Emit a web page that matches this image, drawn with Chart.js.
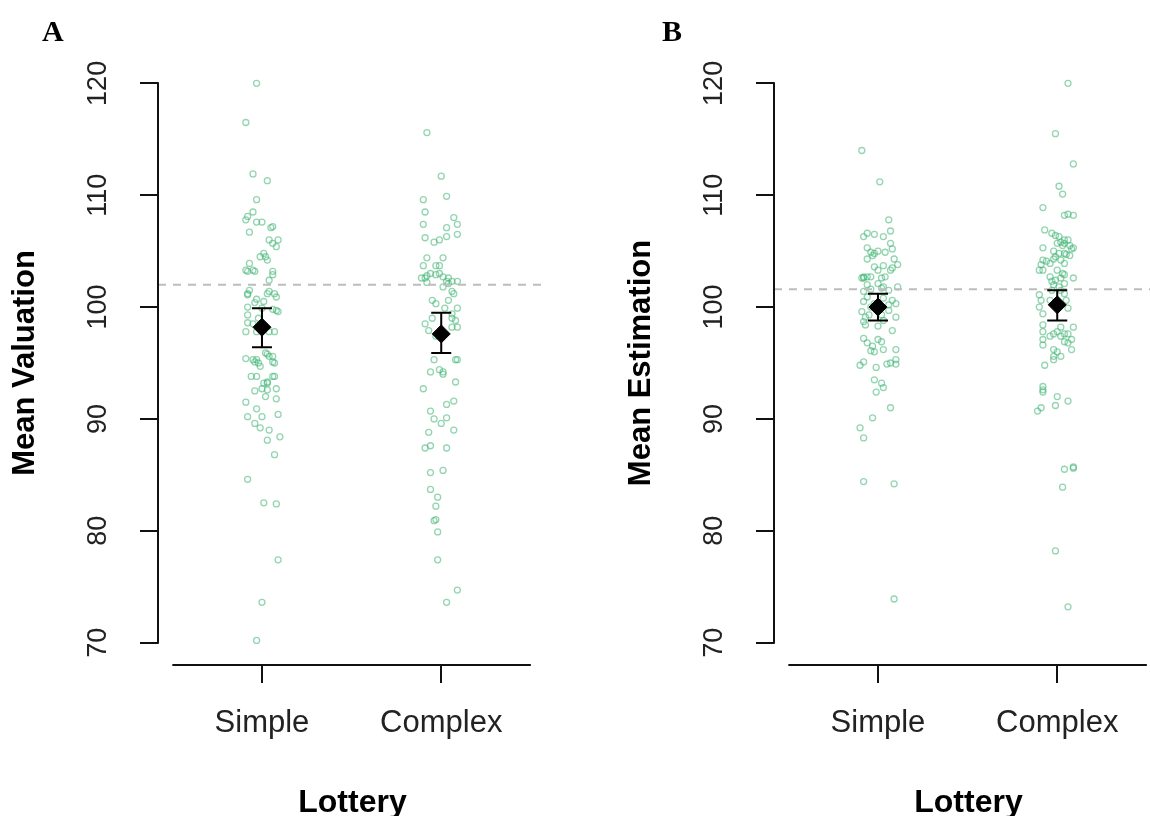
<!DOCTYPE html>
<html>
<head>
<meta charset="utf-8">
<script src="https://cdn.jsdelivr.net/npm/chart.js@4.4.1/dist/chart.umd.min.js"></script>
<style>
    html, body { margin: 0; padding: 0; background: #fff; }
    body { position: relative; width: 1150px; height: 816px; overflow: hidden; }
    .panel { position: absolute; top: 0; }
    .tag { position: absolute; z-index: 2; font: bold 30px "Liberation Serif", "Times New Roman", serif; line-height: 30px; color: #000; }
</style>
</head>
<body>
<div class="tag" style="left:42px; top:16px;">A</div>
<div class="tag" style="left:662px; top:16px;">B</div>
<canvas id="chartA" class="panel" width="575" height="816" style="left:0;"></canvas>
<canvas id="chartB" class="panel" width="575" height="816" style="left:616px;"></canvas>

<script>
// --- data ---
const categories = ['Simple', 'Complex'];
const yTicks = [70, 80, 90, 100, 110, 120];
const axisSpan = [0.5, 2.5]; // R draws the x axis line from 0.5 to 2.5

// Panel A: Mean Valuation
const valSimple = [120.0, 116.5, 111.9, 111.3, 109.6, 108.5, 108.1, 107.8, 107.6, 107.6, 107.2, 107.1, 106.7, 106.0, 106.0, 105.7, 105.4, 104.8, 104.5, 104.5,
    104.2, 103.9, 103.3, 103.2, 103.3, 103.2, 103.2, 102.9, 102.4, 101.5, 101.2, 101.1, 101.4, 101.2, 101.2, 100.7, 100.4, 100.5, 100.9, 100.0,
    99.9, 99.8, 99.7, 99.6, 99.3, 99.0, 98.6, 98.5, 97.8, 97.8, 97.8, 97.8, 95.9, 95.8, 95.6, 95.6, 95.4, 95.3, 95.3, 95.1,
    95.0, 95.1, 95.0, 94.7, 93.8, 93.8, 93.8, 93.8, 93.3, 93.2, 93.2, 92.7, 92.5, 92.6, 92.7, 92.0, 91.8, 91.5, 90.9, 90.4,
    90.2, 90.2, 89.6, 89.2, 89.0, 88.4, 88.1, 86.8, 84.6, 82.5, 82.4, 77.4, 73.6, 70.2];
const valSimpleJitter = [-0.03, -0.09, -0.05, 0.03, -0.03, -0.05, -0.08, -0.09, -0.03, 0.00, 0.06, 0.05, -0.07, 0.04, 0.09, 0.06, 0.08, 0.01, -0.01, 0.02,
    0.03, -0.07, -0.09, -0.08, -0.05, -0.04, 0.06, 0.06, 0.04, -0.07, -0.08, -0.08, 0.04, 0.03, 0.07, -0.03, -0.04, 0.01, 0.08, -0.08,
    0.00, 0.06, 0.08, 0.09, -0.08, -0.02, -0.08, -0.05, -0.09, -0.03, 0.04, 0.07, 0.02, 0.03, 0.04, 0.06, -0.09, -0.05, -0.03, -0.04,
    -0.02, 0.06, 0.07, -0.01, -0.06, -0.03, 0.06, 0.07, 0.03, 0.01, 0.03, 0.00, -0.04, 0.03, 0.08, 0.02, 0.08, -0.09, -0.03, 0.09,
    -0.08, 0.00, -0.04, -0.01, 0.04, 0.10, 0.03, 0.07, -0.08, 0.01, 0.08, 0.09, 0.00, -0.03];
const valComplex = [115.6, 111.7, 109.9, 109.6, 108.5, 108.0, 107.4, 107.4, 107.1, 106.5, 106.2, 105.8, 106.0, 106.3, 104.4, 104.4, 103.7, 103.7, 103.7, 103.0,
    102.8, 102.6, 102.6, 102.9, 103.0, 102.7, 102.6, 102.3, 102.3, 102.3, 102.2, 101.8, 102.1, 101.4, 101.2, 100.6, 100.6, 100.3, 99.9, 99.9,
    99.4, 98.5, 99.0, 99.0, 98.8, 97.9, 98.2, 97.4, 98.2, 95.3, 95.3, 95.3, 94.2, 94.4, 94.0, 94.2, 92.7, 93.3, 91.3, 91.6,
    90.7, 90.0, 90.1, 89.6, 88.8, 89.0, 87.4, 87.6, 87.4, 85.2, 85.4, 83.7, 83.0, 82.2, 81.0, 80.9, 79.9, 77.4, 74.7, 73.6];
const valComplexJitter = [-0.08, 0.00, 0.03, -0.10, -0.09, 0.07, 0.09, -0.10, 0.03, 0.09, -0.09, -0.04, -0.01, 0.03, -0.08, 0.01, -0.10, -0.03, -0.01, -0.06,
    -0.08, -0.09, -0.11, -0.03, -0.01, 0.01, 0.04, 0.06, 0.03, 0.09, -0.08, 0.01, 0.04, 0.06, 0.07, -0.05, 0.04, -0.03, 0.02, 0.09,
    0.06, -0.09, -0.05, 0.06, 0.08, -0.07, 0.09, -0.03, 0.06, -0.04, 0.08, 0.09, -0.06, -0.01, 0.01, 0.01, -0.10, 0.08, 0.03, 0.07,
    -0.06, -0.04, 0.03, 0.00, -0.07, 0.07, -0.09, -0.06, 0.03, -0.06, 0.01, -0.06, -0.02, -0.03, -0.03, -0.04, -0.02, -0.02, 0.09, 0.03];
const valMeans = [98.2, 97.6];
const valLower = [96.4, 95.9];
const valUpper = [99.9, 99.5];
const valRef = 102.0;

// Panel B: Mean Estimation
const estSimple = [114.0, 111.2, 107.8, 106.3, 106.6, 106.5, 106.3, 106.8, 105.7, 105.3, 105.2, 104.9, 104.8, 105.0, 104.9, 104.6, 104.3, 104.3, 103.8, 103.5,
    103.6, 103.3, 103.7, 103.3, 102.7, 102.7, 102.7, 102.6, 102.7, 102.6, 102.6, 102.0, 102.1, 101.6, 101.4, 101.7, 101.8, 101.8, 101.5, 100.9,
    100.5, 100.0, 100.8, 100.6, 100.3, 100.3, 100.2, 99.7, 99.6, 99.1, 99.3, 99.1, 99.3, 98.7, 98.4, 98.3, 97.9, 98.8, 97.2, 96.8,
    97.1, 96.9, 96.5, 96.1, 96.2, 96.2, 96.0, 94.8, 95.1, 94.6, 94.9, 95.0, 95.3, 94.9, 93.5, 93.2, 92.8, 92.4, 91.0, 90.1,
    89.2, 88.3, 84.4, 84.2, 73.9];
const estSimpleJitter = [-0.09, 0.01, 0.06, -0.08, -0.06, -0.02, 0.03, 0.07, 0.07, -0.06, 0.08, -0.04, -0.02, 0.00, 0.04, -0.03, 0.09, -0.06, 0.11, 0.08,
    -0.02, 0.00, 0.03, 0.07, -0.08, -0.06, -0.04, 0.02, 0.04, -0.09, -0.08, -0.06, 0.00, -0.04, -0.08, 0.02, 0.03, 0.11, 0.06, -0.06,
    -0.08, -0.04, 0.03, 0.08, 0.10, -0.02, 0.06, 0.06, -0.09, -0.07, -0.05, 0.10, 0.02, -0.08, -0.07, 0.00, 0.08, 0.03, -0.08, -0.06,
    0.00, 0.02, -0.03, -0.04, 0.10, 0.03, -0.02, -0.10, -0.08, -0.01, 0.05, 0.07, 0.10, 0.10, -0.02, 0.02, 0.03, -0.01, 0.07, -0.03,
    -0.10, -0.08, -0.08, 0.09, 0.09];
const estComplex = [120.0, 115.5, 112.8, 110.8, 110.1, 108.9, 108.2, 108.3, 108.2, 106.9, 106.6, 106.4, 106.3, 106.0, 106.0, 105.8, 105.7, 105.7, 105.5, 105.5,
    105.2, 105.3, 105.3, 105.0, 104.8, 104.8, 104.7, 104.6, 104.5, 104.3, 104.2, 104.1, 103.8, 103.9, 103.3, 103.3, 104.2, 103.9, 103.3, 103.0,
    102.9, 102.7, 102.4, 102.6, 102.3, 102.6, 102.0, 101.8, 102.1, 101.5, 101.5, 101.1, 100.6, 100.0, 99.4, 100.6, 99.9, 101.2, 100.6, 98.2,
    98.4, 97.8, 98.2, 97.6, 97.8, 97.6, 97.4, 97.4, 97.6, 97.1, 96.6, 97.1, 96.8, 96.9, 96.2, 96.0, 95.6, 95.6, 96.2, 95.3,
    94.8, 92.9, 92.6, 92.4, 92.0, 91.2, 91.6, 91.0, 90.7, 85.5, 85.6, 85.7, 83.9, 78.2, 73.2];
const estComplexJitter = [0.06, -0.01, 0.09, 0.01, 0.03, -0.08, 0.04, 0.06, 0.09, -0.07, -0.03, -0.01, 0.01, 0.04, 0.06, 0.02, 0.00, 0.04, 0.07, 0.03,
    0.08, -0.08, 0.09, -0.02, 0.01, 0.04, 0.05, 0.07, -0.01, -0.02, -0.08, -0.06, -0.09, -0.04, -0.10, -0.08, 0.02, 0.04, 0.00, 0.03,
    0.04, -0.04, -0.01, 0.02, -0.03, 0.09, -0.02, 0.01, 0.04, -0.03, 0.02, -0.10, -0.09, -0.10, -0.08, 0.05, 0.06, 0.04, -0.04, 0.09,
    -0.08, -0.08, 0.02, -0.02, 0.00, 0.04, -0.04, 0.02, 0.06, -0.08, -0.08, 0.08, 0.06, 0.04, -0.02, 0.00, -0.02, 0.02, 0.08, -0.02,
    -0.07, -0.08, -0.08, -0.08, 0.00, -0.01, 0.06, -0.09, -0.11, 0.04, 0.09, 0.09, 0.03, -0.01, 0.06];
const estMeans = [100.0, 100.2];
const estLower = [98.8, 98.8];
const estUpper = [101.2, 101.5];
const estRef = 101.6;

const FONT = '"Liberation Sans", Arial, Helvetica, sans-serif';
const X_MIN = 0.42, X_MAX = 2.59, Y_MIN = 68, Y_MAX = 122;

// makes one R-style strip chart panel
function buildPanel(canvasId, yTitle, groups, jitters, means, lower, upper, refValue) {
    const datasets = groups.map((vals, g) => ({
        type: 'scatter',
        data: vals.map((v, i) => ({ x: g + 1 + jitters[g][i], y: v })),
        pointStyle: 'circle',
        pointRadius: 3,
        borderWidth: 1.3,
        borderColor: 'rgba(60, 179, 113, 0.55)',
        backgroundColor: 'rgba(0, 0, 0, 0)',
        order: 3
    }));

    // dashed reference line
    datasets.push({
        type: 'line',
        data: [{ x: X_MIN, y: refValue }, { x: X_MAX, y: refValue }],
        borderColor: '#bdbdbd',
        borderWidth: 2,
        borderDash: [8, 7],
        pointRadius: 0,
        order: 2
    });

    // group means as diamonds
    datasets.push({
        type: 'scatter',
        data: means.map((m, g) => ({ x: g + 1, y: m })),
        pointStyle: 'rectRot',
        pointRadius: 9,
        backgroundColor: '#000',
        borderColor: '#000',
        borderWidth: 1,
        order: 1
    });

    const errorBars = {
        id: 'errorBars',
        afterDatasetsDraw(chart) {
            const { ctx, scales: { x, y } } = chart;
            ctx.save();
            ctx.strokeStyle = '#000';
            ctx.lineWidth = 2;
            means.forEach((m, g) => {
                const px = x.getPixelForValue(g + 1);
                const top = y.getPixelForValue(upper[g]);
                const bot = y.getPixelForValue(lower[g]);
                ctx.beginPath();
                ctx.moveTo(px, top); ctx.lineTo(px, bot);
                ctx.moveTo(px - 10, top); ctx.lineTo(px + 10, top);
                ctx.moveTo(px - 10, bot); ctx.lineTo(px + 10, bot);
                ctx.stroke();
            });
            ctx.restore();
        }
    };

    // R axes only span the tick range, not the full plot box
    const rAxes = {
        id: 'rAxes',
        afterDraw(chart) {
            const { ctx, chartArea, scales: { x, y } } = chart;
            ctx.save();
            ctx.strokeStyle = '#111';
            ctx.lineWidth = 2;
            ctx.beginPath();
            ctx.moveTo(chartArea.left, y.getPixelForValue(yTicks[0]) + 1);
            ctx.lineTo(chartArea.left, y.getPixelForValue(yTicks[yTicks.length - 1]) - 1);
            ctx.moveTo(x.getPixelForValue(axisSpan[0]), chartArea.bottom);
            ctx.lineTo(x.getPixelForValue(axisSpan[1]), chartArea.bottom);
            ctx.stroke();
            ctx.restore();
        }
    };

    const tickGrid = { drawOnChartArea: false, drawTicks: true, tickLength: 18, color: '#111', lineWidth: 2 };

    return new Chart(document.getElementById(canvasId), {
        type: 'scatter',
        data: { datasets },
        options: {
            responsive: false,
            animation: false,
            devicePixelRatio: 1,
            layout: { padding: { top: 61, right: 28, bottom: 0, left: 0 } },
            plugins: { legend: { display: false }, tooltip: { enabled: false } },
            scales: {
                x: {
                    type: 'linear',
                    position: 'bottom',
                    min: X_MIN,
                    max: X_MAX,
                    afterBuildTicks: s => { s.ticks = categories.map((c, i) => ({ value: i + 1 })); },
                    afterFit: s => { s.height = 151; },
                    border: { display: false },
                    grid: tickGrid,
                    ticks: {
                        callback: (v, i) => categories[i],
                        color: '#222',
                        font: { family: FONT, size: 31 },
                        padding: 22,
                        maxRotation: 0,
                        autoSkip: false
                    },
                    title: {
                        display: true,
                        text: 'Lottery',
                        color: '#000',
                        font: { family: FONT, size: 32, weight: 'bold', lineHeight: 1 },
                        padding: { top: 0, bottom: -3 }
                    }
                },
                y: {
                    type: 'linear',
                    min: Y_MIN,
                    max: Y_MAX,
                    afterBuildTicks: s => { s.ticks = yTicks.map(v => ({ value: v })); },
                    afterFit: s => { s.width = 158; },
                    border: { display: false },
                    grid: tickGrid,
                    ticks: {
                        color: '#222',
                        font: { family: FONT, size: 27 },
                        padding: 18.5,
                        minRotation: 90,
                        maxRotation: 90,
                        crossAlign: 'center'
                    },
                    title: {
                        display: true,
                        text: yTitle,
                        color: '#000',
                        font: { family: FONT, size: 31, weight: 'bold', lineHeight: 1 },
                        padding: { top: 9.5, bottom: 0 }
                    }
                }
            }
        },
        plugins: [errorBars, rAxes]
    });
}

buildPanel('chartA', 'Mean Valuation', [valSimple, valComplex], [valSimpleJitter, valComplexJitter], valMeans, valLower, valUpper, valRef);
buildPanel('chartB', 'Mean Estimation', [estSimple, estComplex], [estSimpleJitter, estComplexJitter], estMeans, estLower, estUpper, estRef);
</script>
</body>
</html>
